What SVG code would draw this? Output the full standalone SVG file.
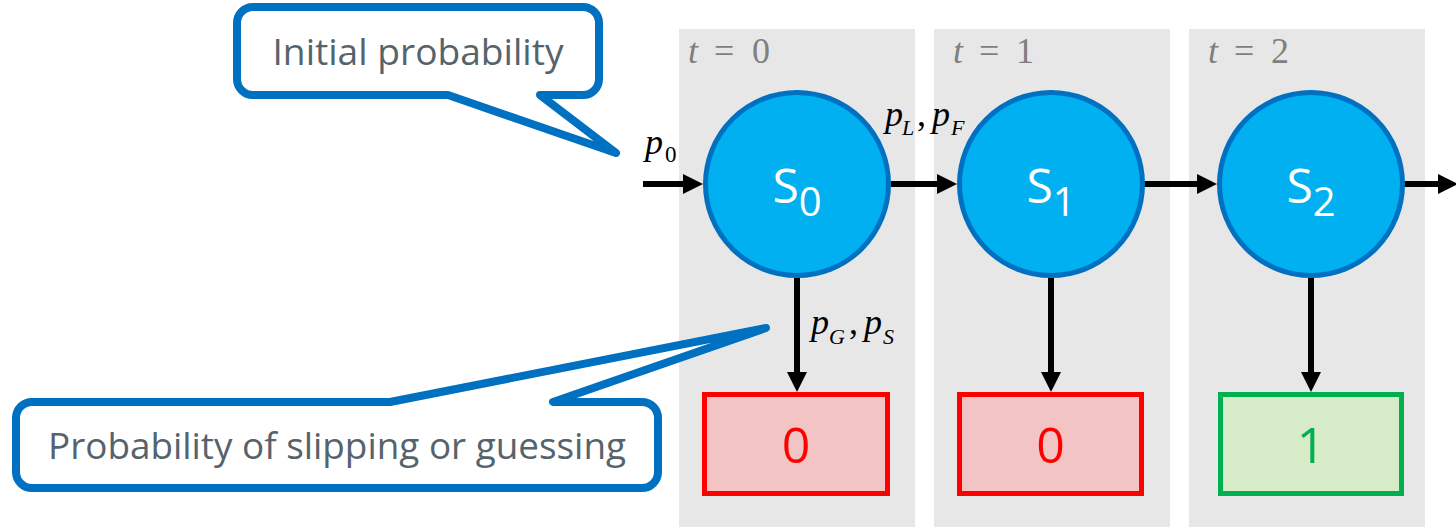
<svg xmlns="http://www.w3.org/2000/svg" width="1456" height="527" viewBox="0 0 1456 527">
  <style>
    .col { fill: #E7E7E7; }
    .state { fill: #00B0F0; stroke: #0070C0; stroke-width: 5; }
    .slabel { font-family: "Open Sans", "Liberation Sans", sans-serif; fill: #FFFFFF; text-anchor: middle; }
    .obs-bad { fill: #F2C4C4; stroke: #FF0000; stroke-width: 5; }
    .obs-good { fill: #D6EBC8; stroke: #00B050; stroke-width: 5; }
    .olabel { font-family: "Open Sans", "Liberation Sans", sans-serif; font-size: 50px; text-anchor: middle; }
    .bubble { fill: #FFFFFF; stroke: #0070C0; stroke-width: 8; stroke-linejoin: round; }
    .btext { font-family: "Open Sans", "Liberation Sans", sans-serif; font-size: 36px; fill: #55636D; text-anchor: middle; }
    .math { font-family: "Liberation Serif", "DejaVu Serif", serif; fill: #000000; }
    .tlabel { font-family: "Liberation Serif", "DejaVu Serif", serif; font-size: 36px; fill: #7F7F7F; }
    .it { font-style: italic; }
    .edge { stroke: #000000; stroke-width: 6; fill: none; marker-end: url(#arrow); }
  </style>
  <defs>
    <marker id="arrow" markerUnits="userSpaceOnUse" markerWidth="20" markerHeight="20" refX="10" refY="10" orient="auto">
      <path d="M0,0 L20,10 L0,20 Z" fill="#000000"/>
    </marker>
  </defs>

  <g id="columns">
    <g id="col0">
      <rect class="col" x="679" y="29" width="236" height="498"/>
      <text class="tlabel" y="63"><tspan class="it" x="688">t</tspan><tspan x="714">=</tspan><tspan x="752">0</tspan></text>
    </g>
    <g id="col1">
      <rect class="col" x="934" y="29" width="236" height="498"/>
      <text class="tlabel" y="63"><tspan class="it" x="953">t</tspan><tspan x="979">=</tspan><tspan x="1016">1</tspan></text>
    </g>
    <g id="col2">
      <rect class="col" x="1189" y="29" width="236" height="498"/>
      <text class="tlabel" y="63"><tspan class="it" x="1208">t</tspan><tspan x="1234">=</tspan><tspan x="1271">2</tspan></text>
    </g>
  </g>

  <g id="connectors">
    <line class="edge" x1="643" y1="184" x2="693" y2="184"/>
    <line class="edge" x1="891" y1="184" x2="947" y2="184"/>
    <line class="edge" x1="1144" y1="184" x2="1207" y2="184"/>
    <line class="edge" x1="1404" y1="184" x2="1448" y2="184"/>
    <line class="edge" x1="797" y1="278" x2="797" y2="382"/>
    <line class="edge" x1="1051" y1="278" x2="1051" y2="382"/>
    <line class="edge" x1="1311" y1="278" x2="1311" y2="382"/>
    <text class="math" font-size="36"><tspan class="it" x="645" y="154">p</tspan><tspan x="665" y="162" font-size="23">0</tspan></text>
    <text class="math" font-size="36"><tspan class="it" x="885" y="126">p</tspan><tspan class="it" x="902" y="135" font-size="22">L</tspan><tspan x="917" y="126">,</tspan><tspan class="it" x="932" y="126">p</tspan><tspan class="it" x="951" y="135" font-size="22">F</tspan></text>
    <text class="math" font-size="36"><tspan class="it" x="811" y="334">p</tspan><tspan class="it" x="829" y="344" font-size="22">G</tspan><tspan x="849" y="334">,</tspan><tspan class="it" x="864" y="334">p</tspan><tspan class="it" x="883" y="344" font-size="22">S</tspan></text>
  </g>

  <g id="S0">
    <circle class="state" cx="797" cy="184" r="91.5"/>
    <text class="slabel" x="797" y="203" font-size="48">S<tspan font-size="40" dy="13">0</tspan></text>
  </g>
  <g id="S1">
    <circle class="state" cx="1051" cy="184" r="91.5"/>
    <text class="slabel" x="1051" y="203" font-size="48">S<tspan font-size="40" dy="13">1</tspan></text>
  </g>
  <g id="S2">
    <circle class="state" cx="1311" cy="184" r="91.5"/>
    <text class="slabel" x="1311" y="203" font-size="48">S<tspan font-size="40" dy="13">2</tspan></text>
  </g>

  <g id="O0">
    <rect class="obs-bad" x="704.5" y="394.5" width="183" height="99"/>
    <text class="olabel" x="796" y="463" fill="#FF0000">0</text>
  </g>
  <g id="O1">
    <rect class="obs-bad" x="959.5" y="394.5" width="182" height="99"/>
    <text class="olabel" x="1050.5" y="463" fill="#FF0000">0</text>
  </g>
  <g id="O2">
    <rect class="obs-good" x="1220.5" y="394.5" width="181" height="99"/>
    <text class="olabel" x="1311" y="463" fill="#00B050">1</text>
  </g>

  <g id="callout-initial">
    <path class="bubble" d="M253,7 H583 A16,16 0 0 1 599,23 V79 A16,16 0 0 1 583,95 H540 L616,153 L448,95 H253 A16,16 0 0 1 237,79 V23 A16,16 0 0 1 253,7 Z"/>
    <text class="btext" x="418" y="65" textLength="291" lengthAdjust="spacingAndGlyphs">Initial probability</text>
  </g>

  <g id="callout-emission">
    <path class="bubble" d="M32,402 H390 L766,328 L553,402 H642 A16,16 0 0 1 658,418 V472 A16,16 0 0 1 642,488 H32 A16,16 0 0 1 16,472 V418 A16,16 0 0 1 32,402 Z"/>
    <text class="btext" x="337" y="459" textLength="578" lengthAdjust="spacingAndGlyphs">Probability of slipping or guessing</text>
  </g>
</svg>
